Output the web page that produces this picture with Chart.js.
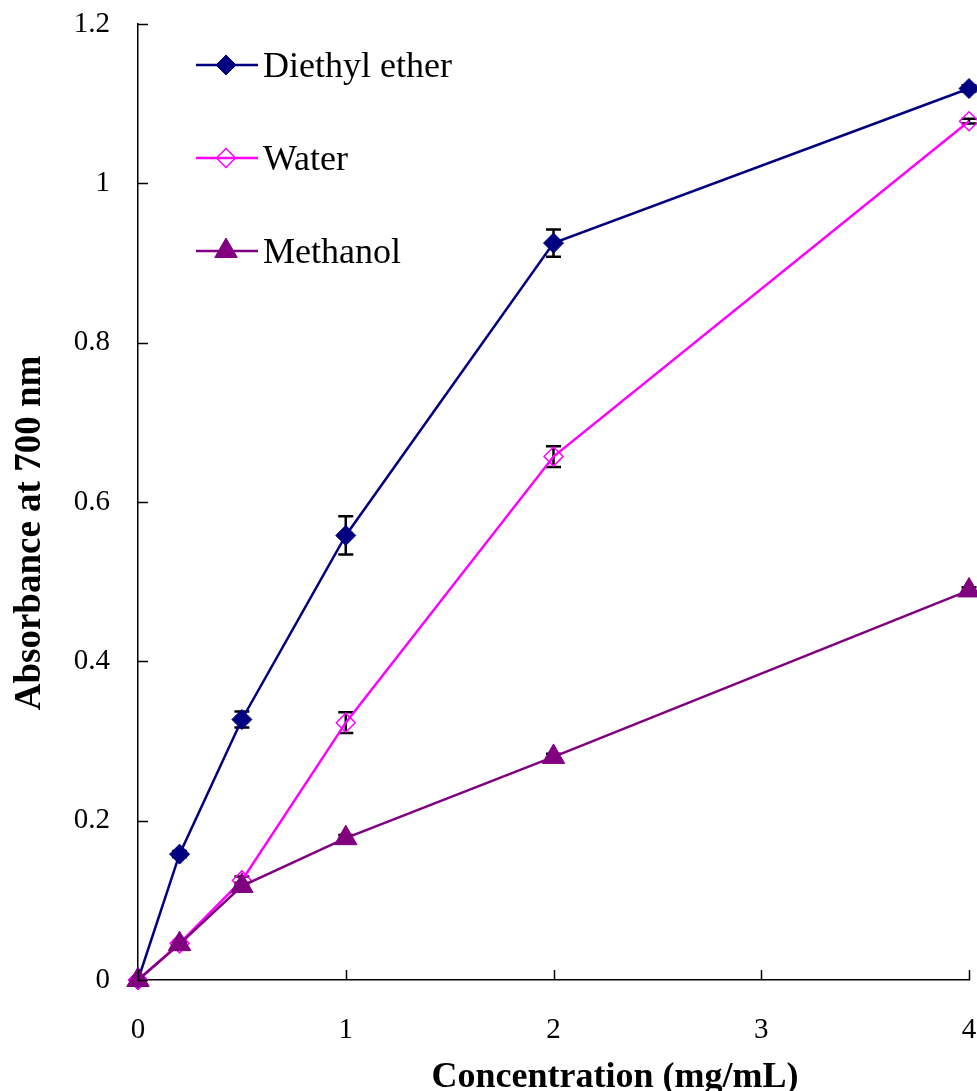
<!DOCTYPE html>
<html>
<head>
<meta charset="utf-8">
<script src="https://cdn.jsdelivr.net/npm/chart.js@4/dist/chart.umd.min.js"></script>
<style>
  html, body { margin: 0; background: #fff; overflow: hidden; }
  /* a bit wider than the window: the scale keeps some room right of the last tick */
  #wrap { width: 983px; height: 1091px; position: relative; }
</style>
</head>
<body>
<div id="wrap"><canvas id="absChart"></canvas></div>
<script>
// === DATA ===
const concentrations = [0, 0.2, 0.5, 1, 2, 4];
const diethylEther = [0, 0.158, 0.327, 0.558, 0.925, 1.119];
const water = [0, 0.046, 0.125, 0.323, 0.657, 1.078];
const methanol = [0, 0.045, 0.118, 0.178, 0.280, 0.489];

// standard deviations (error bars)
const diethylErr = [0, 0.004, 0.01, 0.024, 0.017, 0.004];
const waterErr = [0, 0.003, 0.005, 0.013, 0.013, 0.003];
const methanolErr = [0, 0.003, 0.004, 0.004, 0.004, 0.004];

const xTicks = [0, 1, 2, 3, 4];
const yTicks = [0, 0.2, 0.4, 0.6, 0.8, 1, 1.2];

const xTitle = 'Concentration (mg/mL)';
const yTitle = 'Absorbance at 700 nm';

const SERIF = '"Liberation Serif", "Times New Roman", serif';

function toPoints(ys) {
  return concentrations.map((x, i) => ({ x: x, y: ys[i] }));
}

// === ERROR BARS ===
const errorBars = {
  id: 'errorBars',
  beforeDatasetsDraw(chart) {
    const ctx = chart.ctx;
    const xs = chart.scales.x, ys = chart.scales.y;
    ctx.save();
    ctx.strokeStyle = '#000';
    ctx.lineWidth = 2.5;
    chart.data.datasets.forEach(ds => {
      ds.errors.forEach((e, i) => {
        if (!e) return;
        const px = xs.getPixelForValue(concentrations[i]);
        const top = ys.getPixelForValue(ds.data[i].y + e);
        const bot = ys.getPixelForValue(ds.data[i].y - e);
        ctx.beginPath();
        ctx.moveTo(px, top); ctx.lineTo(px, bot);
        ctx.moveTo(px - 7.5, top); ctx.lineTo(px + 7.5, top);
        ctx.moveTo(px - 7.5, bot); ctx.lineTo(px + 7.5, bot);
        ctx.stroke();
      });
    });
    ctx.restore();
  }
};

// === INWARD TICKS, LEGEND, AXIS TITLES ===
const decorations = {
  id: 'decorations',
  afterDraw(chart) {
    const ctx = chart.ctx;
    const area = chart.chartArea;
    const xs = chart.scales.x, ys = chart.scales.y;
    ctx.save();

    // tick marks point into the plot
    ctx.strokeStyle = '#000';
    ctx.lineWidth = 1.5;
    ctx.beginPath();
    yTicks.forEach(v => {
      const py = Math.round(ys.getPixelForValue(v)) + 0.5;
      ctx.moveTo(area.left, py); ctx.lineTo(area.left + 10, py);
    });
    xTicks.forEach(v => {
      const px = Math.round(xs.getPixelForValue(v)) + 0.5;
      ctx.moveTo(px, area.bottom); ctx.lineTo(px, area.bottom - 10);
    });
    ctx.stroke();

    // legend inside the plot, top left
    const rows = [65, 158, 251];
    chart.data.datasets.forEach((ds, i) => {
      const y = rows[i];
      ctx.strokeStyle = ds.borderColor;
      ctx.lineWidth = ds.borderWidth;
      ctx.beginPath();
      ctx.moveTo(196, y); ctx.lineTo(258, y);
      ctx.stroke();
      ctx.fillStyle = ds.pointBackgroundColor;
      ctx.strokeStyle = ds.pointBorderColor;
      ctx.lineWidth = ds.pointBorderWidth;
      Chart.helpers.drawPoint(ctx, {
        pointStyle: ds.pointStyle,
        radius: ds.pointRadius,
        rotation: 0,
        borderWidth: ds.pointBorderWidth
      }, 226, y);
      ctx.fillStyle = '#000';
      ctx.font = '36px ' + SERIF;
      ctx.textBaseline = 'alphabetic';
      ctx.textAlign = 'left';
      ctx.fillText(ds.label, 263, y + 12);
    });

    // axis titles (sit off-centre in the original)
    ctx.fillStyle = '#000';
    ctx.font = 'bold 36px ' + SERIF;
    ctx.textAlign = 'center';
    ctx.textBaseline = 'alphabetic';
    ctx.fillText(xTitle, 615, 1087);

    ctx.translate(40, 533);
    ctx.rotate(-Math.PI / 2);
    ctx.font = 'bold 37px ' + SERIF;
    ctx.fillText(yTitle, 0, 0);
    ctx.restore();
  }
};

// === CHART ===
const ctx = document.getElementById('absChart');

new Chart(ctx, {
  type: 'line',
  data: {
    datasets: [
      {
        label: 'Diethyl ether',
        data: toPoints(diethylEther),
        errors: diethylErr,
        borderColor: '#000080',
        borderWidth: 2.5,
        pointStyle: 'rectRot',
        pointRadius: 10,
        pointBackgroundColor: '#000080',
        pointBorderColor: '#000080',
        pointBorderWidth: 1,
        order: 2,
        clip: false
      },
      {
        label: 'Water',
        data: toPoints(water),
        errors: waterErr,
        borderColor: '#ff00ff',
        borderWidth: 2.5,
        pointStyle: 'rectRot',
        pointRadius: 9.5,
        pointBackgroundColor: 'rgba(255,255,255,0)',
        pointBorderColor: '#ff00ff',
        pointBorderWidth: 1.5,
        order: 1,
        clip: false
      },
      {
        label: 'Methanol',
        data: toPoints(methanol),
        errors: methanolErr,
        borderColor: '#800080',
        borderWidth: 2.5,
        pointStyle: 'triangle',
        pointRadius: 13,
        pointBackgroundColor: '#800080',
        pointBorderColor: '#800080',
        pointBorderWidth: 1,
        order: 0,
        clip: false
      }
    ]
  },
  options: {
    responsive: true,
    maintainAspectRatio: false,
    animation: false,
    layout: { padding: { left: 0, right: 8, top: 24, bottom: 0 } },
    plugins: {
      legend: { display: false },
      tooltip: { enabled: false }
    },
    elements: { line: { tension: 0 } },
    scales: {
      x: {
        type: 'linear',
        min: 0,
        max: 4,
        afterFit: s => {
          s.height = 111;
          s.paddingLeft = 0;
          s.paddingRight = 0;
        },
        afterBuildTicks: s => { s.ticks = xTicks.map(v => ({ value: v })); },
        border: { display: true, color: '#000', width: 1.5 },
        grid: { display: false, drawTicks: false },
        ticks: {
          color: '#000',
          font: { family: SERIF, size: 29 },
          padding: 33,
          callback: v => String(v)
        }
      },
      y: {
        type: 'linear',
        min: 0,
        max: 1.2,
        afterFit: s => {
          s.width = 138;
          s.paddingTop = 0;
          s.paddingBottom = 0;
        },
        afterBuildTicks: s => { s.ticks = yTicks.map(v => ({ value: v })); },
        border: { display: true, color: '#000', width: 1.5 },
        grid: { display: false, drawTicks: false },
        ticks: {
          color: '#000',
          font: { family: SERIF, size: 29 },
          padding: 28,
          callback: v => String(+v.toFixed(1))
        }
      }
    }
  },
  plugins: [errorBars, decorations]
});
</script>
</body>
</html>
